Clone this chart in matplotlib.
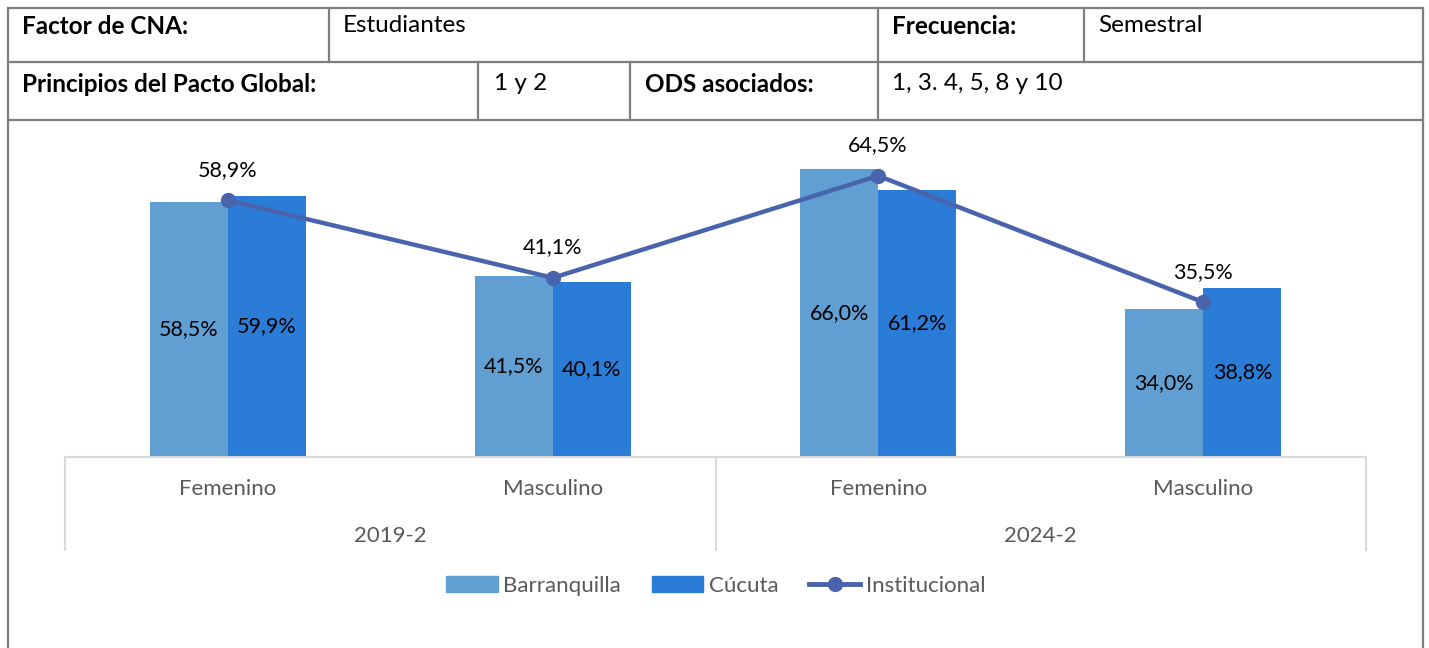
import matplotlib
matplotlib.use("agg")
import matplotlib.pyplot as plt
from matplotlib.lines import Line2D
from matplotlib.patches import Patch

# Data
categories = ["Femenino", "Masculino", "Femenino", "Masculino"]
periods = ["2019-2", "2024-2"]
barranquilla = [58.5, 41.5, 66.0, 34.0]
cucuta = [59.9, 40.1, 61.2, 38.8]
institucional = [58.9, 41.1, 64.5, 35.5]

W, H = 1429, 648
plt.rcParams['font.family'] = ['Lato', 'DejaVu Sans']

c_barr = "#619fd3"
c_cuc = "#2b7cd7"
c_line = "#4a63ad"
c_grid = "#d9d9d9"
c_text = "#595959"
c_border = "#7f7f7f"


def px(x, y):
    return x / W, 1 - y / H


def fmt(v):
    return f"{v:.1f}%".replace(".", ",")


fig = plt.figure(figsize=(W / 100, H / 100), dpi=100)

# Table header borders
def hline(y, x0, x1):
    fig.add_artist(Line2D([x0 / W, x1 / W], [1 - y / H, 1 - y / H], color=c_border, lw=1.6))


def vline(x, y0, y1):
    fig.add_artist(Line2D([x / W, x / W], [1 - y0 / H, 1 - y1 / H], color=c_border, lw=1.6))


hline(8, 8, 1423)
hline(62, 8, 1423)
hline(120, 8, 1423)
vline(8, 8, 648)
vline(1423, 8, 648)
for x in [329, 878, 1084]:
    vline(x, 8, 62)
for x in [478, 630, 878]:
    vline(x, 62, 120)

cells = [
    (22, 26, "Factor de CNA:", "bold"),
    (343, 26, "Estudiantes", "normal"),
    (892, 26, "Frecuencia:", "bold"),
    (1098, 26, "Semestral", "normal"),
    (22, 84, "Principios del Pacto Global:", "bold"),
    (494, 84, "1 y 2", "normal"),
    (645, 84, "ODS asociados:", "bold"),
    (892, 84, "1, 3. 4, 5, 8 y 10", "normal"),
]
for x, y, s, w in cells:
    fx, fy = px(x, y)
    fig.text(fx, fy, s, ha="left", va="center", fontsize=17.5, fontweight=w, color="black")

# Chart
ymax = 70
ax_h = ymax * 4.36
ax = fig.add_axes([65 / W, 1 - 457 / H, 1301 / W, ax_h / H])
x = list(range(len(categories)))
bw = 0.24
xb = [i - bw / 2 for i in x]
xc = [i + bw / 2 for i in x]
ax.bar(xb, barranquilla, width=bw, color=c_barr, label="Barranquilla", zorder=2)
ax.bar(xc, cucuta, width=bw, color=c_cuc, label="Cúcuta", zorder=2)
ax.plot(x, institucional, color=c_line, lw=3.2, marker="o", markersize=10, label="Institucional", zorder=3)

for i in x:
    ax.text(xb[i], barranquilla[i] / 2, fmt(barranquilla[i]), ha="center", va="center", fontsize=15.5, color="black", zorder=4)
    ax.text(xc[i], cucuta[i] / 2, fmt(cucuta[i]), ha="center", va="center", fontsize=15.5, color="black", zorder=4)
    ax.annotate(fmt(institucional[i]), (i, institucional[i]), xytext=(0, 22), textcoords="offset points",
                ha="center", va="center", fontsize=15.5, color="black", zorder=4)

ax.set_xlim(-0.5, 3.5)
ax.set_ylim(0, ymax)
for s in ["top", "left", "right"]:
    ax.spines[s].set_visible(False)
ax.spines["bottom"].set_color(c_grid)
ax.spines["bottom"].set_linewidth(1.5)
ax.set_yticks([])
ax.set_xticks([])

# Category axis lines and labels
tr = ax.get_xaxis_transform()
depth = 93 / ax_h
for xv in [-0.5, 1.5, 3.5]:
    ax.plot([xv, xv], [0, -depth], transform=tr, color=c_grid, lw=1.5, clip_on=False)
for i, c in enumerate(categories):
    ax.text(i, -32 / ax_h, c, transform=tr, ha="center", va="center", fontsize=16, color=c_text)
for j, p in enumerate(periods):
    ax.text(2 * j + 0.5, -79 / ax_h, p, transform=tr, ha="center", va="center", fontsize=16, color=c_text)

handles = [Patch(color=c_barr, label="Barranquilla"), Patch(color=c_cuc, label="Cúcuta"),
           Line2D([], [], color=c_line, lw=3.5, marker="o", markersize=10, label="Institucional")]
lx, ly = px(716, 586)
fig.legend(handles=handles, loc="center", bbox_to_anchor=(lx, ly), ncol=3, frameon=False,
           fontsize=16, labelcolor=c_text, handlelength=2.3, handleheight=0.7,
           handletextpad=0.25, columnspacing=1.4)

fig.savefig("out.png", dpi=100)
